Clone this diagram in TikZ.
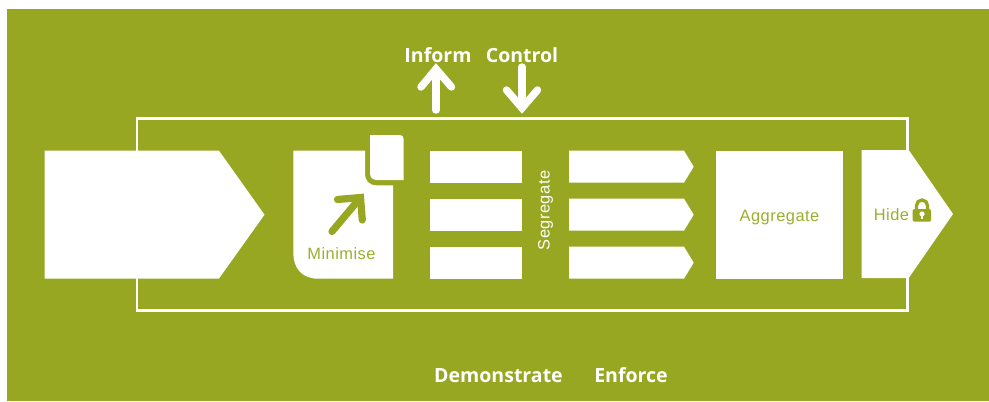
\documentclass[tikz,border=0pt]{standalone}
\usepackage{fontspec}
\setmainfont{Open Sans}
\newfontfamily\labelfont{Liberation Sans}
\definecolor{bgolive}{HTML}{97A722}
\definecolor{txtolive}{HTML}{9BAF2E}
\tikzset{
  px/.style={x=0.75pt,y=-0.75pt},
  block/.style={fill=white,draw=none,inner sep=0pt,outer sep=0pt,minimum width=#1*0.75pt},
  heading/.style={text=white,inner sep=0pt,font=\fontsize{14.65}{16}\selectfont\bfseries},
  label type/.style={font=\labelfont\fontsize{12.3}{14}\selectfont\addfontfeature{LetterSpace=3}},
  inner label/.style={text=txtolive,inner sep=0pt,label type},
  thick arrow/.style={draw=white,line width=5.6pt,line cap=round,line join=miter},
  doc arrow/.style={draw=bgolive,line width=5.4pt,line cap=round,line join=miter},
}
\begin{document}
\begin{tikzpicture}[px]
\useasboundingbox (0,0) rectangle (989,401);
\fill[bgolive] (7,9) rectangle (989,401);
% frame
\node[draw=white,line width=1.9pt,inner sep=0pt,outer sep=0pt,minimum width=770.5*0.75pt,minimum height=192.5*0.75pt] (frame) at (522.2,214.5) {};
% input arrow
\fill[white] (44.5,150.7) -- (219,150.7) -- (264.5,214.7) -- (219,278.5) -- (44.5,278.5) -- cycle;
% Minimise document
\fill[white] (293.3,150.7) -- (365,150.7) -- (365,173) .. controls (365,181) and (369,185.3) .. (377,185.3) -- (393,185.3) -- (393,278.7) -- (318,278.7) .. controls (302,278.7) and (293.3,268) .. (293.3,253) -- cycle;
\fill[white] (370,135) -- (399.7,135) .. controls (402.2,135) and (403.7,136.5) .. (403.7,139) -- (403.7,180) -- (377,180) .. controls (372.5,180) and (370,177.5) .. (370,173) -- cycle;
\coordinate (da) at (332,231.5);
\coordinate (db) at (360.5,197.5);
\draw[doc arrow] (da) -- (db);
\draw[doc arrow] (337.5,199.5) -- (db) -- (362.3,220);
\node[inner label] (minimise) at (341.5,253.5) {Minimise};
% three bars
\node[block=92,minimum height=32*0.75pt] (bar1) at (476,167) {};
\node[block=92,minimum height=32*0.75pt] (bar2) at (476,215) {};
\node[block=92,minimum height=32*0.75pt] (bar3) at (476,263) {};
\node[text=white,inner sep=0pt,rotate=90,label type] (segregate) at (545.5,210.5) {Segregate};
% three arrows
\foreach \y in {150.7,198.7,246.7}{
  \fill[white] (569,\y) -- (684,\y) -- (693.7,\y+16) -- (684,\y+32) -- (569,\y+32) -- cycle;
}
% Aggregate
\node[block=127,minimum height=128*0.75pt] (aggregate) at (779.5,215) {};
\node[inner label] (aggregatetext) at (779.5,217.5) {Aggregate};
% Hide
\fill[white] (861.7,150) -- (908.7,150) -- (953,214) -- (908.7,278) -- (861.7,278) -- cycle;
\node[inner label] (hide) at (891.5,214.5) {Hide};
% lock
\draw[bgolive,line width=2.5pt] (916.5,211) -- (916.5,205.5) arc[start angle=180,end angle=0,x radius=5.5,y radius=-5.5] -- (927.5,211);
\fill[bgolive,rounded corners=1pt] (912.7,209) rectangle (931,221.7);
\fill[white] (922,214) circle[radius=2.6];
\fill[white] (920.8,214) rectangle (923.2,219);
% heading labels
\node[heading] (inform) at (438,55) {Inform};
\node[heading] (control) at (522,55) {Control};
\node[heading] (demonstrate) at (498.5,376) {Demonstrate};
\node[heading] (enforce) at (631,375) {Enforce};
% up / down arrows
\coordinate (ia) at (436,110);
\coordinate (ib) at (436,69);
\draw[thick arrow] (ia) -- (ib);
\draw[thick arrow] (421,87) -- (ib) -- (451.5,87);
\coordinate (ca) at (522,67);
\coordinate (cb) at (522,108);
\draw[thick arrow] (ca) -- (cb);
\draw[thick arrow] (506.5,90) -- (cb) -- (537.5,90);
\end{tikzpicture}
\end{document}
